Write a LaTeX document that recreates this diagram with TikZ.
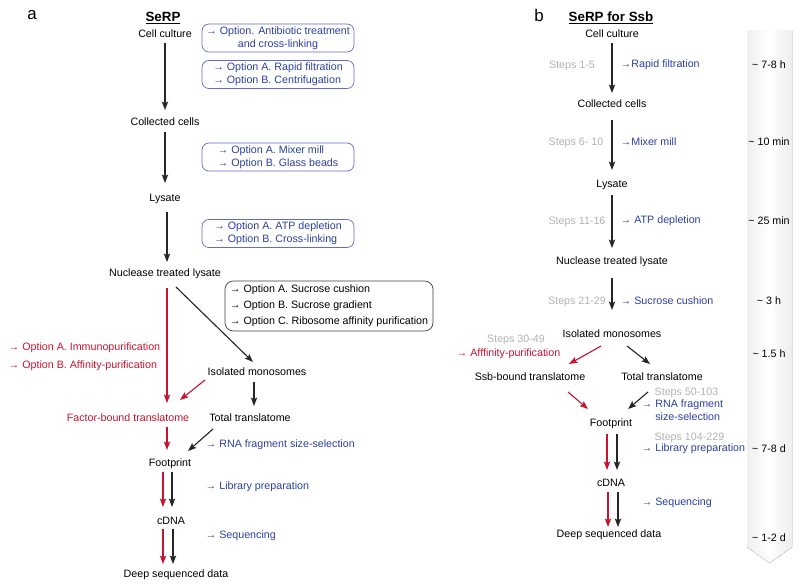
\documentclass[tikz,border=0pt]{standalone}
\usepackage{fontspec}
\setmainfont{Liberation Sans}
\usepackage{tikz}
\usetikzlibrary{calc,arrows.meta,shapes}
\definecolor{serpred}{RGB}{200,20,48}
\definecolor{serpblue}{RGB}{43,63,160}
\definecolor{boxblue}{RGB}{100,105,205}
\definecolor{stepgray}{RGB}{178,178,178}
\newcommand{\stagefont}{\fontsize{7.6}{9.2}\selectfont}

\tikzset{
  stage/.style={font=\stagefont, inner sep=1pt, text height=5.4pt, text depth=0pt},
  redstage/.style={stage, text=serpred},
  opt/.style={font=\stagefont, inner sep=1pt, text=serpblue, anchor=west, align=left},
  redopt/.style={opt, text=serpred, font=\fontsize{7.6}{12.8}\selectfont},
  stepno/.style={stage, text=stepgray},
  dur/.style={stage},
  optbox/.style={draw=boxblue, line width=0.5pt, rounded corners=5pt, font=\stagefont,
    text=serpblue, align=left, minimum width=3.8cm, minimum height=0.7cm, inner sep=1pt},
  purbox/.style={draw=black!75, line width=0.5pt, rounded corners=6pt,
    font=\fontsize{7.6}{11.4}\selectfont, align=left, minimum width=5.2cm,
    minimum height=1.25cm, inner sep=1pt},
  panel/.style={font=\fontsize{12}{12}\selectfont},
  heading/.style={font=\fontsize{9.5}{11}\selectfont\bfseries},
  flow/.style={-{Stealth[length=6pt,width=4.5pt,inset=1.2pt]}, line width=0.8pt, black!85},
  redflow/.style={flow, serpred}
}

\begin{document}
\begin{tikzpicture}[x=0.025cm, y=-0.025cm]
    \useasboundingbox (0,0) rectangle (800,587);

    % Time bar
    \fill[left color=gray!12, right color=gray!14, middle color=white]
      (747,30) -- (792,30) -- (792,547) -- (769.5,563) -- (747,547) -- cycle;

    % Headings
    \node[panel] (pa) at (32,15) {a};
    \node[heading] (ha) at (163,18) {\underline{SeRP}};
    \node[panel] (pb) at (539,15) {b};
    \node[heading] (hb) at (611,18) {\underline{SeRP for Ssb}};

    % Define nodes (a)
    \node[stage] (cult) at (165,34) {Cell culture};
    \node[stage] (coll) at (165,122) {Collected cells};
    \node[stage] (lys) at (165,198) {Lysate};
    \node[stage] (nuc) at (165,273) {Nuclease treated lysate};
    \node[stage] (mono) at (257,372) {Isolated monosomes};
    \node[redstage] (fbt) at (128,418) {Factor-bound translatome};
    \node[stage] (total) at (250,418) {Total translatome};
    \node[stage] (foot) at (170,463) {Footprint};
    \node[stage] (cdna) at (171,521) {cDNA};
    \node[stage] (deep) at (176,574) {Deep sequenced data};

    % Options (a)
    \node[optbox, align=center] (oab) at (278,38) {→ Option. Antibiotic treatment\\and cross-linking};
    \node[optbox] (ocol) at (278,74.5) {→ Option A. Rapid filtration\\→ Option B. Centrifugation};
    \node[optbox] (olys) at (278,157) {→ Option A. Mixer mill\\→ Option B. Glass beads};
    \node[optbox] (onuc) at (278,233.5) {→ Option A. ATP depletion\\→ Option B. Cross-linking};
    \node[purbox] (omono) at (329,306) {→ Option A. Sucrose cushion\\→ Option B. Sucrose gradient\\→ Option C. Ribosome affinity purification};
    \node[redopt] (ofbt) at (7,357) {→ Option A. Immunopurification\\→ Option B. Affinity-purification};
    \node[opt] (orna) at (204,445) {→ RNA fragment size-selection};
    \node[opt] (olib) at (204,487) {→ Library preparation};
    \node[opt] (oseq) at (204,536) {→ Sequencing};

    % Connect the nodes (a)
    \draw[flow] ($(cult)+(0,9)$) -- ($(coll)+(0,-12)$);
    \draw[flow] ($(coll)+(0,10)$) -- ($(lys)+(0,-15)$);
    \draw[flow] ($(lys)+(2,14)$) -- ($(nuc)+(2,-11)$);
    \draw[flow] ($(nuc)+(11,14)$) -- ($(mono)+(-4,-10)$);
    \draw[redflow] ($(nuc)+(2,15)$) -- ($(fbt)+(39,-15)$);
    \draw[redflow] ($(mono)+(-52,8)$) -- ($(fbt)+(52,-18)$);
    \draw[flow] ($(mono)+(-3,10)$) -- ($(total)+(4,-12)$);
    \draw[redflow] ($(fbt)+(39,9)$) -- ($(foot)+(-3,-13)$);
    \draw[flow] ($(total)+(-37,11)$) -- ($(foot)+(18,-12)$);
    \draw[redflow] ($(foot)+(-7,9)$) -- ($(cdna)+(-8,-14)$);
    \draw[flow] ($(foot)+(2,9)$) -- ($(cdna)+(1,-14)$);
    \draw[redflow] ($(cdna)+(-8,8)$) -- ($(deep)+(-13,-10)$);
    \draw[flow] ($(cdna)+(2,8)$) -- ($(deep)+(-3,-10)$);

    % Define nodes (b)
    \node[stage] (cult2) at (612,34) {Cell culture};
    \node[stage] (coll2) at (612,104) {Collected cells};
    \node[stage] (lys2) at (612,184) {Lysate};
    \node[stage] (nuc2) at (612,261) {Nuclease treated lysate};
    \node[stage] (mono2) at (612,334) {Isolated monosomes};
    \node[stage] (ssb) at (530,377) {Ssb-bound translatome};
    \node[stage] (total2) at (662,377) {Total translatome};
    \node[stage] (foot2) at (611,423) {Footprint};
    \node[stage] (cdna2) at (611,483) {cDNA};
    \node[stage] (deep2) at (609,534) {Deep sequenced data};

    % Steps, methods and times (b)
    \node[stepno] (s1) at (572,65) {Steps 1-5};
    \node[stepno] (s2) at (576,142) {Steps 6- 10};
    \node[stepno] (s3) at (577,221) {Steps 11-16};
    \node[stepno] (s4) at (577,301) {Steps 21-29};
    \node[stepno] (s5) at (516,339) {Steps 30-49};
    \node[stepno, anchor=west] (s6) at (653,392) {Steps 50-103};
    \node[stepno, anchor=west] (s7) at (653,437) {Steps 104-229};

    \node[opt] (m1) at (619,65) {→Rapid filtration};
    \node[opt] (m2) at (619,142) {→Mixer mill};
    \node[opt] (m3) at (619,221) {→ ATP depletion};
    \node[opt] (m4) at (619,301) {→ Sucrose cushion};
    \node[opt, text=serpred] (m5) at (455,354) {→ Afffinity-purification};
    \node[opt] (m6) at (640,410.5) {→ RNA fragment\\\hphantom{→ }size-selection};
    \node[opt] (m7) at (640,449) {→ Library preparation};
    \node[opt] (m8) at (640,503) {→ Sequencing};

    \node[dur] (t1) at (769,65) {\textasciitilde\ 7-8 h};
    \node[dur] (t2) at (769,142) {\textasciitilde\ 10 min};
    \node[dur] (t3) at (769,221) {\textasciitilde\ 25 min};
    \node[dur] (t4) at (769,301) {\textasciitilde\ 3 h};
    \node[dur] (t5) at (769,354) {\textasciitilde\ 1.5 h};
    \node[dur] (t6) at (769,449) {\textasciitilde\ 7-8 d};
    \node[dur] (t7) at (769,538) {\textasciitilde\ 1-2 d};

    % Connect the nodes (b)
    \draw[flow] ($(cult2)+(0,9)$) -- ($(coll2)+(0,-11)$);
    \draw[flow] ($(coll2)+(0,16)$) -- ($(lys2)+(0,-14)$);
    \draw[flow] ($(lys2)+(0,11)$) -- ($(nuc2)+(0,-13)$);
    \draw[flow] ($(nuc2)+(0,17)$) -- ($(mono2)+(0,-24)$);
    \draw[redflow] ($(mono2)+(-11,12)$) -- ($(ssb)+(39,-13)$);
    \draw[flow] ($(mono2)+(15,12)$) -- ($(total2)+(-12,-13)$);
    \draw[redflow] ($(ssb)+(38,15)$) -- ($(foot2)+(-23,-14)$);
    \draw[flow] ($(total2)+(-14,15)$) -- ($(foot2)+(17,-14)$);
    \draw[redflow] ($(foot2)+(-4,11)$) -- ($(cdna2)+(-4,-13)$);
    \draw[flow] ($(foot2)+(6,11)$) -- ($(cdna2)+(6,-13)$);
    \draw[redflow] ($(cdna2)+(-3,9)$) -- ($(deep2)+(-1,-7)$);
    \draw[flow] ($(cdna2)+(7,9)$) -- ($(deep2)+(9,-7)$);

\end{tikzpicture}
\end{document}
